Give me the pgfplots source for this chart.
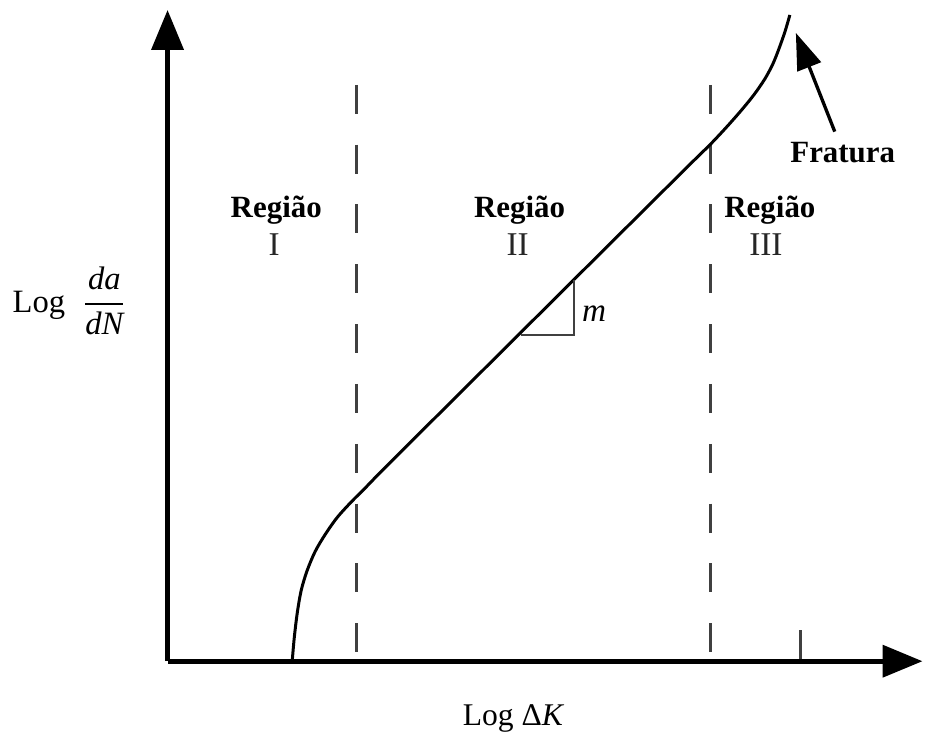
\documentclass[border=0pt]{standalone}
\usepackage{fontspec}
\setmainfont{Liberation Serif}
\usepackage{pgfplots}
\pgfplotsset{compat=1.18}
\usetikzlibrary{arrows.meta}

\begin{document}
\begin{tikzpicture}
\begin{axis}[
    x=0.3pt, y=0.3pt,
    xmin=168, xmax=925, ymin=77, ymax=730,
    axis lines*=left,
    axis line style={line width=1.5pt, -{Triangle[length=12pt,width=9.5pt]}},
    xtick={803}, xticklabel=\empty,
    ytick=\empty,
    tick pos=left, tick align=inside,
    major tick length=9.3pt,
    tick style={line width=0.9pt, black!75},
    clip=false,
    every node/.style={font=\fontsize{9.3}{11}\selectfont},
]
% room of the whole picture
\path (axis cs:0,0) rectangle (axis cs:925,740);

% region borders
\addplot[black!75, line width=0.9pt, dash pattern=on 8.7pt off 9.3pt]
    coordinates {(357,655) (357,77)};
\addplot[black!75, line width=0.9pt, dash pattern=on 8.7pt off 9.3pt]
    coordinates {(712,655) (712,77)};

% crack growth curve
\addplot[black, line width=0.9pt, smooth, tension=0.5] coordinates {
    (293,77) (295,100) (298,125) (302,148) (308,168) (316,187)
    (326,204) (338,221) (352,236.5) (366,250.5) (380,265) (400,285)
    (500,384.5) (600,484) (690,573.4) (712,595) (728,612) (743,629)
    (756,645) (767,661) (775,676) (781,691) (787,708) (792,725)
};

% slope triangle
\addplot[black!75, line width=0.6pt] coordinates {(522,404) (576,404) (576,459)};
\node[anchor=west, inner sep=0pt] at (axis cs:583,425) {\textit{m}};

% fracture arrow
\addplot[black, line width=1pt, -{Triangle[length=11pt,width=7.5pt]}]
    coordinates {(837,608) (798,707)};
\node[anchor=base, font=\fontsize{9.3}{11}\selectfont\bfseries] at (axis cs:845,577) {Fratura};

% region labels
\node[anchor=base, font=\fontsize{9.3}{11}\selectfont\bfseries] at (axis cs:277,522) {Região};
\node[anchor=base, text=black!85] at (axis cs:275,484) {I};
\node[anchor=base, font=\fontsize{9.3}{11}\selectfont\bfseries] at (axis cs:521,522) {Região};
\node[anchor=base, text=black!85] at (axis cs:519,484) {II};
\node[anchor=base, font=\fontsize{9.3}{11}\selectfont\bfseries] at (axis cs:772,522) {Região};
\node[anchor=base, text=black!85] at (axis cs:768,484) {III};

% axis labels
\node[anchor=base west, inner sep=0pt, font=\fontsize{9.8}{11}\selectfont] at (axis cs:12,427)
    {Log\hspace{0.5em}$\displaystyle\frac{\textit{da}}{\textit{dN}}$};
\node[anchor=base, font=\fontsize{9.5}{11}\selectfont] at (axis cs:515,13) {Log Δ\textit{K}};
\end{axis}
\end{tikzpicture}
\end{document}
